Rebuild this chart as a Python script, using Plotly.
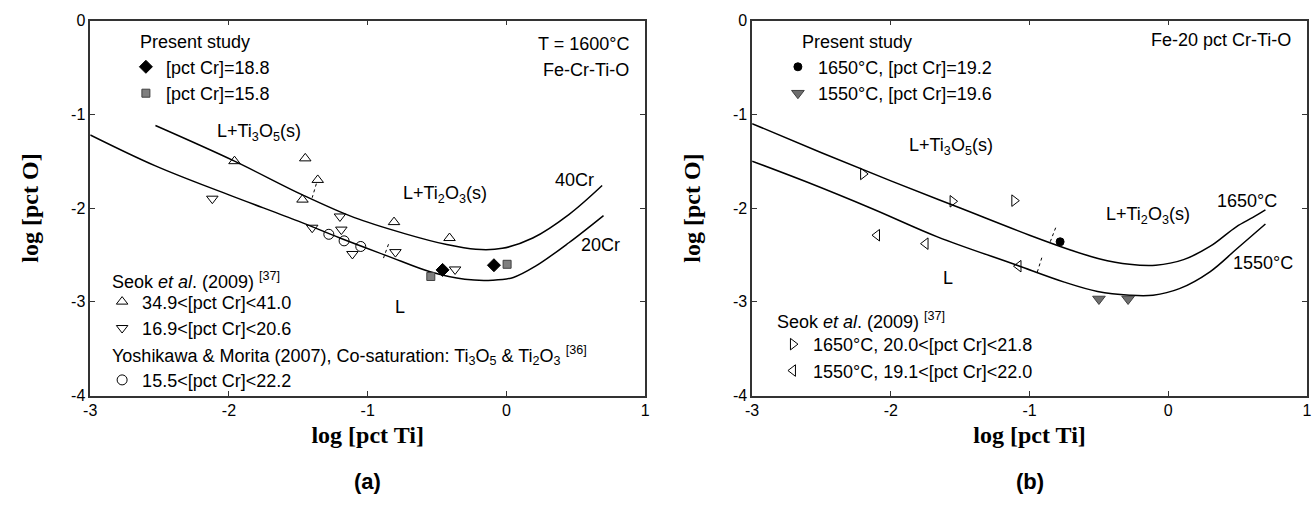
import plotly.graph_objects as go

W, H = 1316, 506

# ---------------- data: panel (a) ----------------
cr40_x = [-2.53, -1.96, -1.47, -1.10, -0.74, -0.43, -0.22, -0.03, 0.19, 0.45, 0.69]
cr40_y = [-1.12, -1.50, -1.86, -2.10, -2.27, -2.39, -2.44, -2.43, -2.32, -2.07, -1.76]
cr20_x = [-3.00, -2.53, -2.00, -1.50, -1.20, -0.86, -0.55, -0.30, -0.10, 0.05, 0.21, 0.45, 0.70]
cr20_y = [-1.22, -1.55, -1.86, -2.14, -2.32, -2.51, -2.68, -2.76, -2.77, -2.74, -2.62, -2.37, -2.08]

a_present188_x = [-0.46, -0.09]
a_present188_y = [-2.66, -2.61]
a_present158_x = [-0.545, 0.005]
a_present158_y = [-2.73, -2.60]

a_seok_hi_x = [-1.96, -1.45, -1.36, -1.47, -0.81, -0.41]
a_seok_hi_y = [-1.50, -1.47, -1.70, -1.91, -2.15, -2.32]
a_seok_lo_x = [-2.12, -1.20, -1.40, -1.19, -1.11, -0.80, -0.37]
a_seok_lo_y = [-1.90, -2.09, -2.21, -2.23, -2.49, -2.47, -2.655]
a_yoshi_x = [-1.28, -1.17, -1.05]
a_yoshi_y = [-2.28, -2.35, -2.41]

a_tie1_x = [-1.37, -1.40]
a_tie1_y = [-1.74, -1.89]
a_tie2_x = [-0.85, -0.886]
a_tie2_y = [-2.386, -2.534]

# ---------------- data: panel (b) ----------------
t1650_x = [-3.00, -2.50, -2.00, -1.50, -1.00, -0.70, -0.50, -0.28, -0.09, 0.11, 0.30, 0.49, 0.61, 0.70]
t1650_y = [-1.10, -1.41, -1.71, -2.00, -2.29, -2.45, -2.54, -2.60, -2.61, -2.55, -2.41, -2.20, -2.10, -2.02]
t1550_x = [-3.00, -2.61, -2.13, -1.66, -1.11, -0.75, -0.51, -0.28, -0.11, 0.08, 0.30, 0.49, 0.70]
t1550_y = [-1.50, -1.72, -2.01, -2.31, -2.60, -2.79, -2.89, -2.93, -2.93, -2.86, -2.68, -2.44, -2.17]

b_present1650_x = [-0.78]
b_present1650_y = [-2.36]
b_present1550_x = [-0.50, -0.29]
b_present1550_y = [-2.97, -2.97]

b_seok1650_x = [-2.20, -1.555, -1.11]
b_seok1650_y = [-1.636, -1.928, -1.921]
b_seok1550_x = [-2.10, -1.75, -1.08]
b_seok1550_y = [-2.29, -2.38, -2.62]

b_tie1_x = [-0.812, -0.859]
b_tie1_y = [-2.21, -2.39]
b_tie2_x = [-0.912, -0.948]
b_tie2_y = [-2.53, -2.70]

x_ticks = [-3, -2, -1, 0, 1]
x_tick_labels = ["-3", "-2", "-1", "0", "1"]
y_ticks = [0, -1, -2, -3, -4]
y_tick_labels = ["0", "-1", "-2", "-3", "-4"]

SANS = "Liberation Sans, Arial, sans-serif"
SERIF = "Liberation Serif, Times New Roman, serif"
INK = "#000000"
GRAY = "#7f7f7f"

def px(x):
    return x / W

def py(y):
    return 1 - y / H

fig = go.Figure()

def line(xs, ys, xa, ya, dash="solid", width=1.5):
    fig.add_trace(go.Scatter(x=xs, y=ys, mode="lines", xaxis=xa, yaxis=ya,
                             line=dict(color=INK, width=width, dash=dash,
                                       shape="spline" if dash == "solid" else "linear"),
                             showlegend=False, hoverinfo="skip"))

def pts(xs, ys, xa, ya, name, symbol, size, fill, legend, edge=INK, lw=1):
    fig.add_trace(go.Scatter(x=xs, y=ys, mode="markers", xaxis=xa, yaxis=ya, name=name,
                             marker=dict(symbol=symbol, size=size, color=fill,
                                         line=dict(color=edge, width=lw)),
                             legend=legend, showlegend=True))

# panel a
line(cr40_x, cr40_y, "x", "y")
line(cr20_x, cr20_y, "x", "y")
line(a_tie1_x, a_tie1_y, "x", "y", dash="dot", width=1)
line(a_tie2_x, a_tie2_y, "x", "y", dash="dot", width=1)
pts(a_present188_x, a_present188_y, "x", "y", "[pct Cr]=18.8", "diamond", 10, INK, "legend")
pts(a_present158_x, a_present158_y, "x", "y", "[pct Cr]=15.8", "square", 8, GRAY, "legend", edge="#404040")
pts(a_seok_hi_x, a_seok_hi_y, "x", "y", "34.9<[pct Cr]<41.0", "triangle-up-open", 10, INK, "legend2")
pts(a_seok_lo_x, a_seok_lo_y, "x", "y", "16.9<[pct Cr]<20.6", "triangle-down-open", 10, INK, "legend2")
pts(a_yoshi_x, a_yoshi_y, "x", "y", "15.5<[pct Cr]<22.2", "circle-open", 10, INK, "legend3")

# panel b
line(t1650_x, t1650_y, "x2", "y2")
line(t1550_x, t1550_y, "x2", "y2")
line(b_tie1_x, b_tie1_y, "x2", "y2", dash="dot", width=1)
line(b_tie2_x, b_tie2_y, "x2", "y2", dash="dot", width=1)
pts(b_present1650_x, b_present1650_y, "x2", "y2", "1650°C, [pct Cr]=19.2", "circle", 8, INK, "legend4")
pts(b_present1550_x, b_present1550_y, "x2", "y2", "1550°C, [pct Cr]=19.6", "triangle-down", 11, "#6e6e6e",
    "legend4", edge="#404040")
pts(b_seok1650_x, b_seok1650_y, "x2", "y2", "1650°C, 20.0<[pct Cr]<21.8", "triangle-right-open", 10, INK, "legend5")
pts(b_seok1550_x, b_seok1550_y, "x2", "y2", "1550°C, 19.1<[pct Cr]<22.0", "triangle-left-open", 10, INK, "legend5")

LEG_FONT = dict(family=SANS, size=18, color=INK)

def leg(left_px, top_px):
    return dict(x=px(left_px), y=py(top_px), xanchor="left", yanchor="top",
                bgcolor="rgba(0,0,0,0)", borderwidth=0, font=LEG_FONT,
                itemclick=False, itemdoubleclick=False, tracegroupgap=0)

axis_common = dict(range=[-3, 1], tickvals=x_ticks, ticktext=x_tick_labels, ticks="inside", ticklen=5,
                   tickwidth=1.2, tickcolor="#333", showline=True, linecolor="#333", linewidth=1.5,
                   mirror="ticks", showgrid=False, zeroline=False,
                   tickfont=dict(family=SANS, size=16, color=INK),
                   title=dict(text="log [pct Ti]", font=dict(family=SERIF, size=24, color=INK, weight="bold"),
                              standoff=8))
yaxis_common = dict(range=[-4, 0], tickvals=y_ticks, ticktext=y_tick_labels, ticks="inside", ticklen=5,
                    tickwidth=1.2, tickcolor="#333", showline=True, linecolor="#333", linewidth=1.5,
                    mirror="ticks", showgrid=False, zeroline=False,
                    tickfont=dict(family=SANS, size=16, color=INK),
                    title=dict(text="log [pct O]", font=dict(family=SERIF, size=24, color=INK, weight="bold"),
                               standoff=26))

ydom = [py(401), py(13)]
fig.update_layout(
    width=W, height=H, margin=dict(l=0, r=0, t=0, b=0),
    paper_bgcolor="white", plot_bgcolor="white",
    xaxis=dict(domain=[px(84), px(644)], anchor="y", **axis_common),
    yaxis=dict(domain=ydom, anchor="x", **yaxis_common),
    xaxis2=dict(domain=[px(752), px(1312)], anchor="y2", **axis_common),
    yaxis2=dict(domain=ydom, anchor="x2", **yaxis_common),
    legend=leg(120, 42),
    legend2=leg(96, 285),
    legend3=leg(96, 366),
    legend4=leg(778, 42),
    legend5=leg(773, 329),
    showlegend=True,
)

TXT = dict(family=SANS, size=18, color=INK)

def note(text, x, y, xref="paper", yref="paper", xanchor="left", size=18, bold=False):
    f = dict(TXT, size=size)
    if bold:
        f["weight"] = "bold"
    fig.add_annotation(text=text, x=x, y=y, xref=xref, yref=yref, xanchor=xanchor,
                       yanchor="middle", showarrow=False, font=f)

# legend headings (paper px)
note("Present study", px(132), py(35))
note("Seok <i>et al</i>. (2009) <sup>[37]</sup>", px(104), py(282))
note("Yoshikawa &amp; Morita (2007), Co-saturation: Ti<sub>3</sub>O<sub>5</sub> &amp; "
     "Ti<sub>2</sub>O<sub>3</sub> <sup>[36]</sup>", px(104), py(360))
note("T = 1600°C", px(630), py(37), xanchor="right")
note("Fe-Cr-Ti-O", px(630), py(64), xanchor="right")

note("Present study", px(800), py(35))
note("Seok <i>et al</i>. (2009) <sup>[37]</sup>", px(775), py(323))
note("Fe-20 pct Cr-Ti-O", px(1298), py(33), xanchor="right")

# region labels (data coords)
note("L+Ti<sub>3</sub>O<sub>5</sub>(s)", -1.78, -1.19, "x", "y", xanchor="center")
note("L+Ti<sub>2</sub>O<sub>3</sub>(s)", -0.44, -1.86, "x", "y", xanchor="center")
note("L", -0.77, -3.06, "x", "y", xanchor="center")
note("40Cr", 0.49, -1.70, "x", "y", xanchor="center")
note("20Cr", 0.68, -2.39, "x", "y", xanchor="center")

note("L+Ti<sub>3</sub>O<sub>5</sub>(s)", -1.57, -1.34, "x2", "y2", xanchor="center")
note("L+Ti<sub>2</sub>O<sub>3</sub>(s)", -0.15, -2.08, "x2", "y2", xanchor="center")
note("L", -1.59, -2.75, "x2", "y2", xanchor="center")
note("1650°C", 0.57, -1.93, "x2", "y2", xanchor="center")
note("1550°C", 0.68, -2.59, "x2", "y2", xanchor="center")

# panel captions
note("(a)", px(364), py(490), xanchor="center", size=22, bold=True)
note("(b)", px(1032), py(490), xanchor="center", size=22, bold=True)

fig.write_html("out.html")
